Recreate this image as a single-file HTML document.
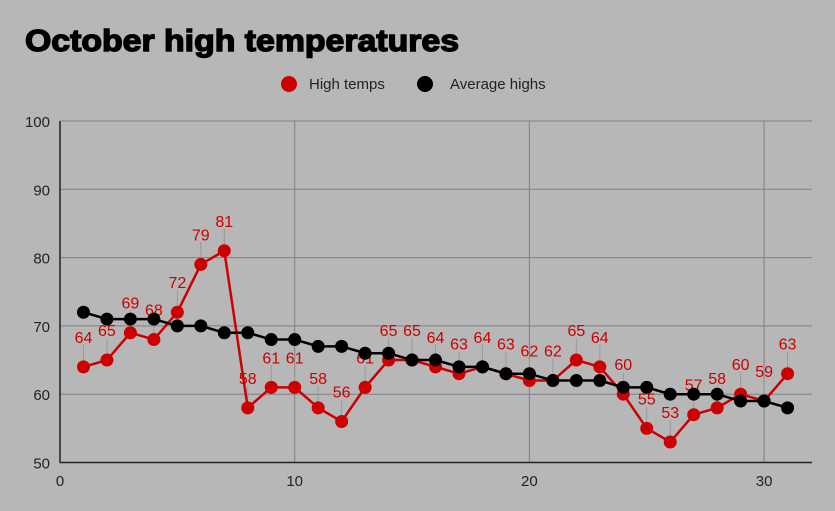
<!DOCTYPE html><html><head><style>body{margin:0;background:#b7b7b7}svg{display:block}</style></head><body>
<svg id="s" width="835" height="511" xmlns="http://www.w3.org/2000/svg" font-family="Liberation Sans, Arial, sans-serif">
<rect width="835" height="511" fill="#b7b7b7"/>
<text x="25" y="51" font-size="31" font-weight="bold" fill="#000" stroke="#000" stroke-width="1.4" textLength="434" lengthAdjust="spacingAndGlyphs">October high temperatures</text>
<circle cx="289" cy="84" r="8" fill="#cc0000"/><text x="309" y="89" font-size="15" fill="#222">High temps</text>
<circle cx="425" cy="84" r="8" fill="#000"/><text x="450" y="89" font-size="15" fill="#222">Average highs</text>
<g id="g"></g>
</svg>
<script>
var g=document.getElementById('g'),h='';
function X(d){return 60+d*23.47}function Y(v){return 462.5-(v-50)*6.83}
for(var v=60;v<=100;v+=10)h+='<line x1="60" x2="812" y1="'+Y(v)+'" y2="'+Y(v)+'" stroke="#808080" stroke-width="1"/>';
for(var d=10;d<=30;d+=10)h+='<line x1="'+X(d)+'" x2="'+X(d)+'" y1="121" y2="462" stroke="#808080" stroke-width="1"/>';
h+='<line x1="60" x2="812" y1="462.5" y2="462.5" stroke="#222" stroke-width="1.5"/><line x1="60" x2="60" y1="121" y2="463" stroke="#222" stroke-width="1.5"/>';
for(var v=50;v<=100;v+=10)h+='<text x="50" y="'+(Y(v)+6)+'" font-size="15" fill="#222" text-anchor="end">'+v+'</text>';
for(var d=0;d<=30;d+=10)h+='<text x="'+X(d)+'" y="486" font-size="15" fill="#222" text-anchor="middle">'+d+'</text>';
var hi=[64,65,69,68,72,79,81,58,61,61,58,56,61,65,65,64,63,64,63,62,62,65,64,60,55,53,57,58,60,59,63];
var av=[72,71,71,71,70,70,69,69,68,68,67,67,66,66,65,65,64,64,63,63,62,62,62,61,61,60,60,60,59,59,58];
var p=hi.map(function(v,i){return X(i+1)+','+Y(v)}).join(' ');
hi.forEach(function(v,i){h+='<line x1="'+X(i+1)+'" x2="'+X(i+1)+'" y1="'+(Y(v)-22)+'" y2="'+(Y(v)-6)+'" stroke="#999" stroke-width="1"/>';});
h+='<polyline points="'+p+'" fill="none" stroke="#cc0000" stroke-width="2.5"/>';
hi.forEach(function(v,i){h+='<circle cx="'+X(i+1)+'" cy="'+Y(v)+'" r="6.5" fill="#cc0000"/><text x="'+X(i+1)+'" y="'+(Y(v)-24)+'" font-size="16" fill="#cc0000" text-anchor="middle">'+v+'</text>';});
var q=av.map(function(v,i){return X(i+1)+','+Y(v)}).join(' ');
h+='<polyline points="'+q+'" fill="none" stroke="#000" stroke-width="2.5"/>';
av.forEach(function(v,i){h+='<circle cx="'+X(i+1)+'" cy="'+Y(v)+'" r="6.5" fill="#000"/>';});
g.innerHTML=h;
</script></body></html>
